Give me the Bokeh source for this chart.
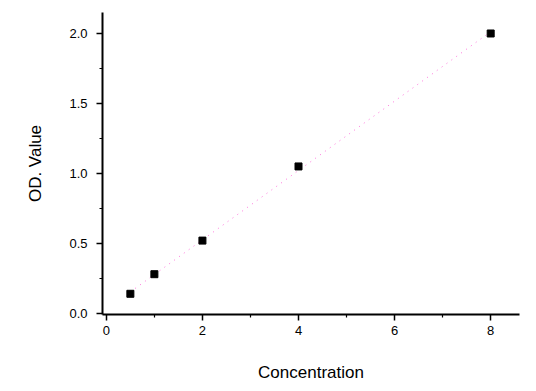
import numpy as np
from bokeh.plotting import figure
from bokeh.models import FixedTicker, Range1d
from bokeh.embed import file_html
from bokeh.resources import INLINE

concentration = [0.5, 1, 2, 4, 8]
od_value = [0.14, 0.28, 0.52, 1.05, 2.0]
x_ticks = [0, 2, 4, 6, 8]
x_minor = [1, 3, 5, 7]
y_ticks = [0.0, 0.5, 1.0, 1.5, 2.0]
y_minor = [0.25, 0.75, 1.25, 1.75]

slope, intercept = np.polyfit(concentration, od_value, 1)
fit_x = [min(concentration), max(concentration)]
fit_y = [slope * v + intercept for v in fit_x]

p = figure(width=528, height=389, output_backend="svg", toolbar_location=None,
           x_range=Range1d(-0.08, 8.6), y_range=Range1d(-0.008, 2.15),
           min_border_left=102, min_border_right=9, min_border_top=12, min_border_bottom=75)
p.outline_line_color = None
p.grid.visible = False
p.background_fill_color = "white"

p.line(fit_x, fit_y, line_color="#ff33cc", line_alpha=0.7, line_width=1, line_dash="1 5")
p.scatter(concentration, od_value, marker="square", size=7, fill_color="black", line_color="black")

for ax in (p.xaxis[0], p.yaxis[0]):
    ax.axis_line_width = 2
    ax.major_tick_line_width = 1.5
    ax.minor_tick_line_width = 1.2
    ax.major_tick_out = 6
    ax.major_tick_in = 0
    ax.minor_tick_out = 3
    ax.minor_tick_in = 0
    ax.major_label_text_font = "Liberation Sans"
    ax.major_label_text_font_size = "13px"
    ax.major_label_text_color = "black"
    ax.axis_label_text_font = "Liberation Sans"
    ax.axis_label_text_font_size = "17px"
    ax.axis_label_text_font_style = "normal"
    ax.axis_label_text_color = "black"

p.xaxis[0].major_label_standoff = 5
p.yaxis[0].major_label_standoff = 9
p.xaxis[0].ticker = FixedTicker(ticks=x_ticks, minor_ticks=x_minor)
p.yaxis[0].ticker = FixedTicker(ticks=y_ticks, minor_ticks=y_minor)
p.xaxis[0].major_label_overrides = {t: str(t) for t in x_ticks}
p.yaxis[0].major_label_overrides = {t: f"{t:.1f}" for t in y_ticks}
p.xaxis[0].axis_label = "Concentration"
p.yaxis[0].axis_label = "OD. Value"
p.xaxis[0].axis_label_standoff = 25
p.yaxis[0].axis_label_standoff = 21

open("out.html", "w").write(file_html(p, INLINE))
